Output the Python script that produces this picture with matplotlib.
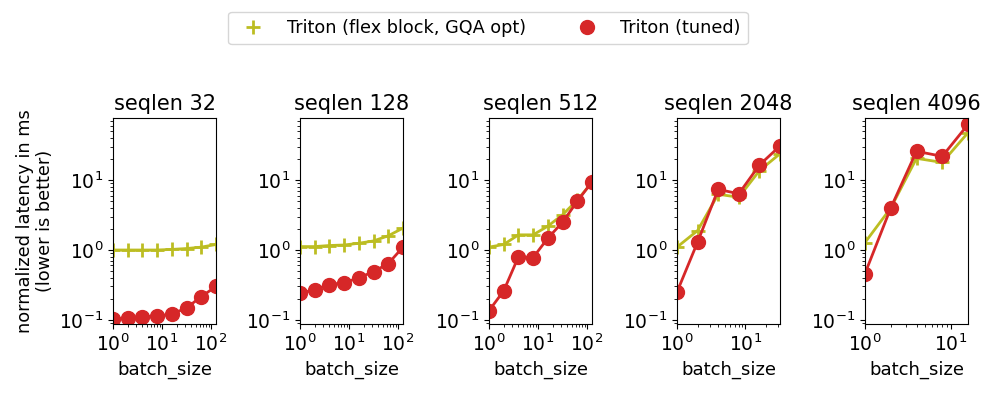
import matplotlib
matplotlib.use('Agg')
import matplotlib.pyplot as plt
import numpy as np

seqlens = [32, 128, 512, 2048, 4096]
batch_sizes = {
    32: [1, 2, 4, 8, 16, 32, 64, 128],
    128: [1, 2, 4, 8, 16, 32, 64, 128],
    512: [1, 2, 4, 8, 16, 32, 64, 128],
    2048: [1, 2, 4, 8, 16, 32],
    4096: [1, 2, 4, 8, 16],
}
flex_gqa = {
    32: [1.0, 1.0, 1.0, 1.0, 1.02, 1.05, 1.1, 1.2],
    128: [1.12, 1.12, 1.16, 1.18, 1.25, 1.35, 1.6, 2.06],
    512: [1.1, 1.2, 1.65, 1.65, 2.2, 3.2, 5.2, 9.3],
    2048: [1.1, 1.9, 6.3, 5.7, 13.7, 24],
    4096: [1.28, 4.0, 20.6, 18, 48],
}
tuned = {
    32: [0.102, 0.106, 0.11, 0.113, 0.121, 0.148, 0.215, 0.30],
    128: [0.24, 0.27, 0.32, 0.34, 0.40, 0.49, 0.64, 1.1],
    512: [0.135, 0.26, 0.8, 0.78, 1.48, 2.5, 5.0, 9.5],
    2048: [0.25, 1.3, 7.4, 6.4, 16.5, 31],
    4096: [0.46, 4.0, 26, 22, 63],
}

OLIVE = '#bcbd22'
RED = '#d62728'
FS = 13

fig = plt.figure(figsize=(9.97, 3.94), dpi=100)
lefts = [113, 300, 489, 677, 865]
axes = []
for i, s in enumerate(seqlens):
    ax = fig.add_axes([lefts[i] / 997, 70 / 394, 103 / 997, 206 / 394])
    axes.append(ax)
    x = batch_sizes[s]
    ax.plot(x, flex_gqa[s], color=OLIVE, marker='+', ms=10, mew=2, lw=2,
            label='Triton (flex block, GQA opt)')
    ax.plot(x, tuned[s], color=RED, marker='o', ms=10, lw=2,
            label='Triton (tuned)')
    ax.set_xscale('log')
    ax.set_yscale('log')
    ax.set_xlim(min(x), max(x))
    ax.set_ylim(0.087, 78)
    ax.set_title('seqlen %d' % s, fontsize=15)
    ax.set_xlabel('batch_size', fontsize=FS)
    ax.tick_params(labelsize=13.5)

axes[0].set_ylabel('normalized latency in ms\n(lower is better)', fontsize=12.8,
                   linespacing=1.1)

# legend shows markers only
h1 = plt.Line2D([], [], color=OLIVE, marker='+', ms=10, mew=2, ls='none')
h2 = plt.Line2D([], [], color=RED, marker='o', ms=10, ls='none')
fig.legend([h1, h2], ['Triton (flex block, GQA opt)', 'Triton (tuned)'],
           loc='center', bbox_to_anchor=(488 / 997, 1 - 28 / 394), ncol=2,
           fontsize=12.7, columnspacing=2.45, handletextpad=0.9)

fig.savefig('out.png', dpi=100)
